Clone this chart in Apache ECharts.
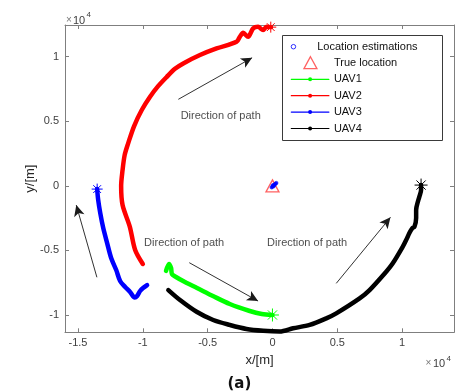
<!DOCTYPE html>
<html><head><meta charset="utf-8">
<script src="https://cdn.jsdelivr.net/npm/echarts@6/dist/echarts.min.js"></script>
<style>html,body{margin:0;padding:0;background:#fff}#c{width:462px;height:392px}</style>
</head><body><div id="c"></div>
<script>
// ---- data (metres) ----
const uav1 = [[-8210,-6590],[-7980,-6050],[-7820,-6360],[-7750,-6830],[-7440,-7060],[-6750,-7450],[-5820,-7910],[-4590,-8530],[-3290,-9150],[-1750,-9690],[-820,-9920],[0,-10000]];
const uav2 = [[-10000,-6050],[-10590,-4970],[-11000,-3170],[-11560,-1490],[-11670,-20],[-11560,1220],[-11400,2380],[-11130,3290],[-10670,4630],[-10080,5870],[-9440,6900],[-8820,7720],[-8150,8440],[-7520,9060],[-6880,9480],[-5590,10130],[-4310,10640],[-2770,11150],[-2520,11540],[-2260,11850],[-1880,11540],[-1490,12190],[-1110,12310],[-720,12060],[-460,12310],[-130,12290]];
const uav3 = [[-9670,-7680],[-9980,-7910],[-10210,-8140],[-10440,-8530],[-10620,-8650],[-10980,-8220],[-11360,-7830],[-11750,-7370],[-12050,-6520],[-12440,-5590],[-12750,-4430],[-13050,-3270],[-13280,-2110],[-13440,-1100],[-13520,-250]];
const uav4 = [[-8030,-8070],[-7130,-8840],[-5850,-9750],[-4570,-10390],[-3290,-10770],[-2000,-11080],[-720,-11220],[560,-11280],[1590,-11030],[2870,-10770],[4150,-10260],[4920,-9870],[6720,-8710],[7490,-8070],[8770,-6650],[9280,-6000],[10050,-4710],[10310,-4200],[10560,-3650],[10790,-3270],[10950,-3170],[11080,-2490],[11080,-1870],[11250,-1100],[11330,-840],[11460,-330],[11460,60]];
const estimations = [[-60,-120],[0,-60],[60,0],[120,60],[180,120],[240,170],[300,220],[90,-40],[30,40]];
const trueLocation = [[0,0]];
const arrows = [[[-7260,6700],[-1570,9915]],[[-13540,-7080],[-15130,-1490]],[[-6415,-5950],[-1110,-8920]],[[4920,-7550],[9100,-2440]]];
const notes = [[-7080,5400,'Direction of path'],[-9900,-4450,'Direction of path'],[-415,-4390,'Direction of path']];
const xTicks = [-15000,-10000,-5000,0,5000,10000];
const yTicks = [-10000,-5000,0,5000,10000];
const xRange = [-16000,14000];
const yRange = [-11340,12455];

const FONT = "'Liberation Sans', Arial, sans-serif";
const AX = '#7f7f7f', LBL = '#404040';
const star = 'path://M0,-10L0,10M-10,0L10,0M-7.07,-7.07L7.07,7.07M-7.07,7.07L7.07,-7.07';
const fmt = v => { const s = +(v/10000).toFixed(2); return String(s === 0 ? 0 : s); };

function axisBase(extra) {
  return Object.assign({
    type: 'value', splitLine: {show: false},
    axisLine: {show: true, onZero: false, lineStyle: {color: AX, width: 1}},
  }, extra);
}
function endMark(data, color, size) {
  const p = data[data.length - 1];
  return {symbol: star, symbolSize: size, silent: true, label: {show: false},
    itemStyle: {color: 'rgba(0,0,0,0)', borderColor: color, borderWidth: 1},
    data: [{coord: p}]};
}
function uavSeries(name, data, color, size) {
  return {name, type: 'line', data, showSymbol: false, symbol: 'circle', symbolSize: 4,
    smooth: 0.3, color, lineStyle: {color, width: 4.5, join: 'round', cap: 'round'}, z: 3, clip: true,
    markPoint: endMark(data, color, size)};
}

const chart = echarts.init(document.getElementById('c'), null, {renderer: 'canvas'});
chart.setOption({
  animation: false,
  backgroundColor: '#fff',
  textStyle: {fontFamily: FONT},
  grid: {left: 65, top: 25, right: 8, bottom: 59.7, containLabel: false},
  xAxis: [
    axisBase({min: xRange[0], max: xRange[1], position: 'bottom',
      axisTick: {show: true, inside: true, length: 4, customValues: xTicks, lineStyle: {color: AX}},
      axisLabel: {customValues: xTicks, formatter: fmt, color: LBL, fontSize: 11, margin: 5, fontFamily: FONT},
      name: 'x/[m]', nameLocation: 'middle', nameGap: 21.5, nameMoveOverlap: false,
      nameTextStyle: {fontSize: 13, color: '#262626', fontFamily: FONT}}),
    axisBase({min: xRange[0], max: xRange[1], position: 'top',
      axisTick: {show: true, inside: true, length: 4, customValues: xTicks, lineStyle: {color: AX}},
      axisLabel: {show: false}})
  ],
  yAxis: [
    axisBase({min: yRange[0], max: yRange[1], position: 'left',
      axisTick: {show: true, inside: true, length: 4, customValues: yTicks, lineStyle: {color: AX}},
      axisLabel: {customValues: yTicks, formatter: fmt, color: LBL, fontSize: 11, margin: 6, fontFamily: FONT},
      name: 'y/[m]', nameLocation: 'middle', nameGap: 28, nameRotate: 90, nameMoveOverlap: false,
      nameTextStyle: {fontSize: 13, color: '#262626', fontFamily: FONT}}),
    axisBase({min: yRange[0], max: yRange[1], position: 'right',
      axisTick: {show: true, inside: true, length: 4, customValues: yTicks, lineStyle: {color: AX}},
      axisLabel: {show: false}})
  ],
  legend: [
    {data: ['Location estimations'], orient: 'vertical', left: 290.7, top: 38.5, padding: 0, itemGap: 0,
     itemWidth: 37.6, itemHeight: 4.5, icon: 'circle', selectedMode: false,
     itemStyle: {color: 'rgba(0,0,0,0)', borderColor: '#0000ff', borderWidth: 1},
     textStyle: {fontSize: 11, lineHeight: 16.4, color: '#111', fontFamily: FONT}, z: 6},
    {data: ['True location'], orient: 'vertical', left: 303.3, top: 54.5, padding: 0, itemGap: 0,
     itemWidth: 13, itemHeight: 12, icon: 'triangle', selectedMode: false,
     itemStyle: {color: 'rgba(0,0,0,0)', borderColor: '#ff3b3b', borderWidth: 1.3},
     textStyle: {fontSize: 11, lineHeight: 16.4, color: '#111', fontFamily: FONT, padding: [0, 0, 0, 12]}, z: 6},
    {data: ['UAV1', 'UAV2', 'UAV3', 'UAV4'], orient: 'vertical', left: 290.7, top: 71.1, padding: 0, itemGap: 0,
     itemWidth: 37.6, itemHeight: 5, selectedMode: false,
     lineStyle: {width: 1.2},
     textStyle: {fontSize: 11, lineHeight: 16.4, color: '#111', fontFamily: FONT}, z: 6}
  ],
  graphic: [
    {type: 'rect', z: 5, shape: {x: 282.5, y: 35.5, width: 160, height: 105},
     style: {fill: '#fff', stroke: '#3a3a3a', lineWidth: 1}},
    {type: 'text', left: 66, top: 15, style: {text: '×', fontSize: 10, fill: '#777', fontFamily: FONT}},
    {type: 'text', left: 73, top: 15, style: {text: '10', fontSize: 11, fill: LBL, fontFamily: FONT}},
    {type: 'text', left: 86.5, top: 11, style: {text: '4', fontSize: 8, fill: LBL, fontFamily: FONT}},
    {type: 'text', left: 425.5, top: 358.5, style: {text: '×', fontSize: 10, fill: '#777', fontFamily: FONT}},
    {type: 'text', left: 433, top: 358.5, style: {text: '10', fontSize: 11, fill: LBL, fontFamily: FONT}},
    {type: 'text', left: 446.5, top: 354.5, style: {text: '4', fontSize: 8, fill: LBL, fontFamily: FONT}},
    {type: 'text', left: 227.5, top: 377, style: {text: '(a)', fontSize: 15, fontWeight: 'bold', fill: '#111', fontFamily: "'DejaVu Sans', sans-serif"}}
  ],
  series: [
    {name: 'True location', type: 'scatter', data: trueLocation, symbol: 'triangle', symbolSize: [13, 12],
     itemStyle: {color: 'rgba(0,0,0,0)', borderColor: '#ff3b3b', borderWidth: 1.3}, z: 4},
    {name: 'Location estimations', type: 'scatter', data: estimations, symbol: 'circle', symbolSize: 3.5,
     itemStyle: {color: '#0000ff', borderColor: '#0000ff', borderWidth: 0.5}, z: 5},
    uavSeries('UAV1', uav1, '#00ff00', 13),
    uavSeries('UAV2', uav2, '#ff0000', 11),
    uavSeries('UAV3', uav3, '#0000ff', 11),
    uavSeries('UAV4', uav4, '#000000', 13),
    {name: 'notes', type: 'scatter', data: notes, symbolSize: 0, silent: true, z: 6,
     label: {show: true, position: 'right', distance: 0, formatter: p => p.data[2],
       fontSize: 11, color: '#1a1a1a', fontFamily: FONT}},
    {name: 'arrows', type: 'line', data: [], silent: true,
     markLine: {silent: true, symbol: ['none', 'arrow'], symbolSize: [8, 11], label: {show: false},
       lineStyle: {color: '#1a1a1a', width: 0.9, type: 'solid'},
       data: arrows.map(a => [{coord: a[0]}, {coord: a[1]}])}}
  ]
});
</script>
</body></html>
